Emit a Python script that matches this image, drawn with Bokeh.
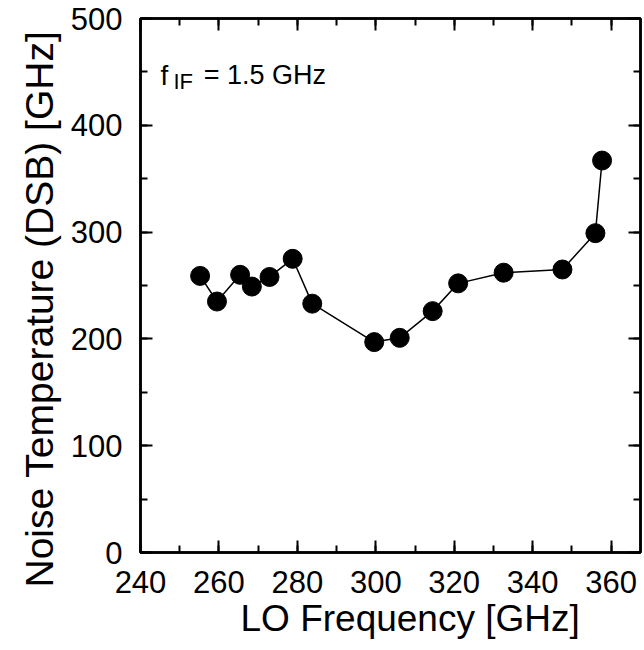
from bokeh.plotting import figure
from bokeh.models import Range1d, LinearAxis, SingleIntervalTicker, Label, ColumnDataSource, CustomJSTickFormatter, Title
from bokeh.embed import file_html
from bokeh.resources import INLINE

# Data
lo_freq_ghz = [255.2, 259.5, 265.4, 268.4, 272.9, 278.8, 283.8, 299.6, 306.1, 314.5, 321.0, 332.6, 347.6, 356.0, 357.7]
noise_temp = [259, 235, 260, 249, 258, 275, 233, 197, 201, 226, 252, 262, 265, 299, 367]

x_title = "LO Frequency [GHz]"
y_title = "Noise Temperature (DSB) [GHz]"

FONT = "Liberation Sans"

src = ColumnDataSource(dict(x=lo_freq_ghz, y=noise_temp))

p = figure(width=644, height=650, output_backend="svg", toolbar_location=None,
           x_range=Range1d(240, 367.5), y_range=Range1d(0, 500),
           x_axis_type=None, y_axis_type=None,
           min_border_left=140, min_border_right=4, min_border_top=18, min_border_bottom=98)
p.grid.visible = False
p.background_fill_color = "white"
p.border_fill_color = "white"
p.outline_line_color = "black"
p.outline_line_width = 2.5

xt = SingleIntervalTicker(interval=20, num_minor_ticks=2)
yt = SingleIntervalTicker(interval=100, num_minor_ticks=2)

def style(ax, labels=True):
    ax.axis_line_color = "black"
    ax.axis_line_width = 2.5
    ax.major_tick_in = 12
    ax.major_tick_out = 0
    ax.minor_tick_in = 7
    ax.minor_tick_out = 0
    ax.major_tick_line_width = 2
    ax.minor_tick_line_width = 2
    ax.major_tick_line_color = "black"
    ax.minor_tick_line_color = "black"
    ax.major_label_text_font = FONT
    ax.major_label_text_font_size = "31px"
    ax.major_label_text_color = "black"
    if not labels:
        ax.formatter = CustomJSTickFormatter(code="return ''")
        ax.major_label_standoff = 0

bx = LinearAxis(ticker=xt)
style(bx)
bx.major_label_standoff = 18
p.add_layout(bx, "below")

ly = LinearAxis(ticker=yt)
style(ly)
ly.major_label_standoff = 18
p.add_layout(ly, "left")

tx = LinearAxis(ticker=xt)
style(tx, labels=False)
p.add_layout(tx, "above")

ry = LinearAxis(ticker=yt)
style(ry, labels=False)
p.add_layout(ry, "right")

# axis titles as Title annotations, positioned like the reference
xt_title = Title(text=x_title, align="left", offset=100, standoff=0,
                 text_font=FONT, text_font_size="37px", text_font_style="normal", text_color="black")
p.add_layout(xt_title, "below")
yt_title = Title(text=y_title, align="left", offset=-35, standoff=14,
                 text_font=FONT, text_font_size="39px", text_font_style="normal", text_color="black")
p.add_layout(yt_title, "left")

p.line("x", "y", source=src, line_color="black", line_width=1.5)
p.scatter("x", "y", source=src, size=19, fill_color="black", line_color="black")

# annotation f_IF = 1.5 GHz
p.add_layout(Label(x=245.1, y=447.0, text="f", text_font=FONT, text_font_size="28px",
                   text_color="black", text_baseline="alphabetic", text_align="left"))
p.add_layout(Label(x=248.4, y=441.4, text="IF", text_font=FONT, text_font_size="22px",
                   text_color="black", text_baseline="alphabetic", text_align="left"))
p.add_layout(Label(x=256.1, y=447.0, text="= 1.5 GHz", text_font=FONT, text_font_size="27px",
                   text_color="black", text_baseline="alphabetic", text_align="left"))

open("out.html", "w").write(file_html(p, INLINE))
